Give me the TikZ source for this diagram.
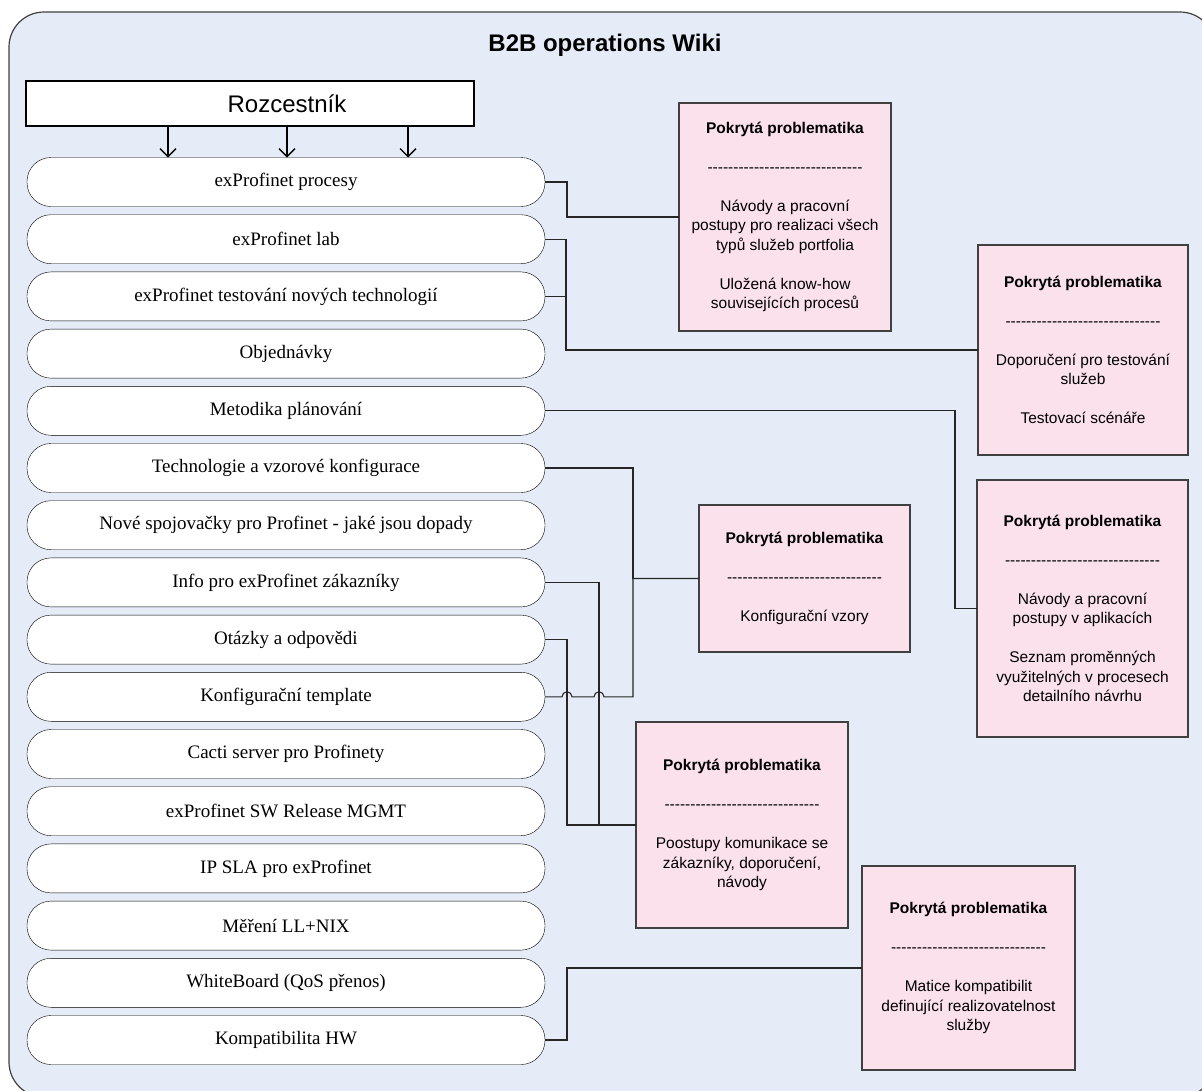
\documentclass[tikz,border=0pt]{standalone}
\usepackage{fontspec}
\setmainfont{Liberation Serif}
\newfontfamily\arial{Liberation Sans}
\usepackage{tikz}
\usetikzlibrary{arrows.meta,positioning}

\definecolor{wikibg}{RGB}{229,236,247}
\definecolor{notepink}{RGB}{251,225,236}
\definecolor{edgegray}{RGB}{64,64,64}

% row of hyphens under the heading (a loop, so no dash ligatures)
\newcommand{\dashrule}{\foreach \k in {1,...,30}{-}}
\newcommand{\covered}{\textbf{Pokrytá problematika}\\[19.5pt]\dashrule\\[19.5pt]}

\begin{document}
\begin{tikzpicture}[
  x=1pt, y=-1pt,
  node distance=8.2pt,
  pill/.style={draw=black, fill=white, rounded corners=24pt, minimum width=518pt, minimum height=49pt, outer sep=0pt, font=\fontsize{19}{22}\selectfont},
  note/.style={draw=edgegray, line width=1.2pt, fill=notepink, align=center, inner sep=0pt, outer sep=0pt, font=\arial\fontsize{15.5}{19.5}\selectfont},
  link/.style={draw=black!85, line width=1.1pt},
  arr/.style={-{Straight Barb[length=8pt,width=16pt]}, line width=1.4pt}
]
\useasboundingbox (0,0) rectangle (1202,1090);
\draw[edgegray, line width=1.2pt, fill=wikibg, rounded corners=35pt] (9,12) rectangle (1215,1097);

\node[font=\arial\bfseries\fontsize{24}{28}\selectfont] (title) at (605,45) {B2B operations Wiki};
\node[draw, line width=1.2pt, fill=white, minimum width=448pt, minimum height=45pt] (rozc) at (250,103.5) {};
\node[font=\arial\fontsize{24}{28}\selectfont] (rozcText) at ([xshift=37pt]rozc.center) {Rozcestník};

% wiki sections
\node[pill] (proc) at (286,182) {exProfinet procesy};
\node[pill, below=of proc] (lab) {exProfinet lab};
\node[pill, below=of lab] (test) {exProfinet testování nových technologií};
\node[pill, below=of test] (orders) {Objednávky};
\node[pill, below=of orders] (plan) {Metodika plánování};
\node[pill, below=of plan] (tech) {Technologie a vzorové konfigurace};
\node[pill, below=of tech] (switches) {Nové spojovačky pro Profinet - jaké jsou dopady};
\node[pill, below=of switches] (info) {Info pro exProfinet zákazníky};
\node[pill, below=of info] (faq) {Otázky a odpovědi};
\node[pill, below=of faq] (template) {Konfigurační template};
\node[pill, below=of template] (cacti) {Cacti server pro Profinety};
\node[pill, below=of cacti] (release) {exProfinet SW Release MGMT};
\node[pill, below=of release] (ipsla) {IP SLA pro exProfinet};
\node[pill, below=of ipsla] (meas) {Měření LL+NIX};
\node[pill, below=of meas] (board) {WhiteBoard (QoS přenos)};
\node[pill, below=of board] (compat) {Kompatibilita HW};

\foreach \dx in {-118,1,122}
  \draw[arr] ([xshift=\dx pt]proc.north |- rozc.south) -- ([xshift=\dx pt]proc.north);

% notes
\node[note, minimum width=212pt, minimum height=228pt] (procNote) at (785,217)
  {\covered Návody a pracovní\\postupy pro realizaci všech\\typů služeb portfolia\\[19.5pt]Uložená know-how\\souvisejících procesů};
\node[note, minimum width=210pt, minimum height=210pt] (labNote) at (1083,350)
  {\covered Doporučení pro testování\\služeb\\[19.5pt]Testovací scénáře};
\node[note, minimum width=211pt, minimum height=257pt] (planNote) at (1082.5,608.5)
  {\covered Návody a pracovní\\postupy v aplikacích\\[19.5pt]Seznam proměnných\\využitelných v procesech\\detailního návrhu};
\node[note, minimum width=211pt, minimum height=147pt] (confNote) at (804.5,578.5)
  {\covered Konfigurační vzory};
\node[note, minimum width=212pt, minimum height=206pt] (custNote) at (742,825)
  {\covered Poostupy komunikace se\\zákazníky, doporučení,\\návody};
\node[note, minimum width=213pt, minimum height=204pt] (hwNote) at (968.5,968)
  {\covered Matice kompatibilit\\definující realizovatelnost\\služby};

% links
\draw[link] (proc.east) -- ++(22,0) |- (procNote.west);
\draw[link] (lab.east) -- ++(21,0) |- (labNote.west);
\draw[link] (test.east) -- ++(21,0) |- (labNote.west);
\draw[link] (plan.east) -- ++(410,0) |- (planNote.west);
\draw[link] (tech.east) -- ++(88,0) |- (confNote.west);
\draw[link] (template.east) -- ++(17,0) arc[start angle=180, end angle=0, radius=5pt]
  -- ++(22,0) arc[start angle=180, end angle=0, radius=5pt] -- ++(29,0) |- (confNote.west);
\draw[link] (info.east) -- ++(54,0) |- (custNote.west);
\draw[link] (faq.east) -- ++(22,0) |- (custNote.west);
\draw[link] (compat.east) -- ++(22,0) |- (hwNote.west);
\end{tikzpicture}
\end{document}
